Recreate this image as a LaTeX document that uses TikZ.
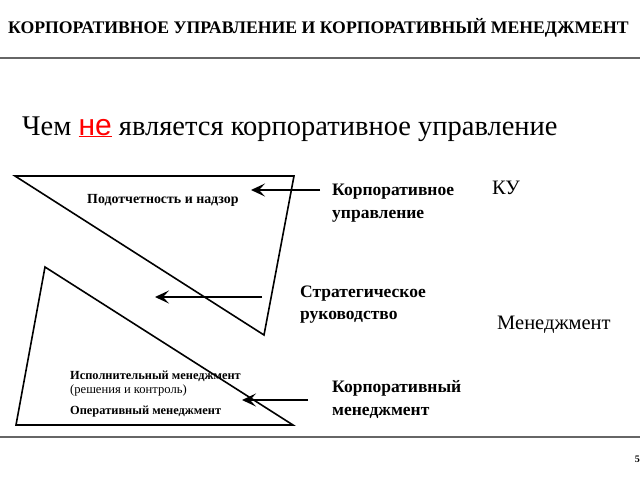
\documentclass[tikz,border=0pt]{standalone}
\usepackage{fontspec}
\setmainfont{Liberation Serif}
\newfontfamily\arialf{Liberation Sans}
\usetikzlibrary{arrows.meta}
\begin{document}
\begin{tikzpicture}[x=1pt,y=-1pt,
  tri/.style={draw=black, line width=1.6pt, line join=miter},
  arr/.style={draw=black, line width=2.4pt, -{Stealth[length=14pt,width=13pt,inset=6pt]}},
  lab/.style={anchor=base west, inner sep=0pt, font=\bfseries\fontsize{17.5}{22}\selectfont},
  small/.style={anchor=base west, inner sep=0pt, font=\bfseries\fontsize{12.4}{14}\selectfont},
  big/.style={anchor=base west, inner sep=0pt, font=\fontsize{20.5}{22}\selectfont},
  rulel/.style={draw=black!60, line width=1.2pt}]
\clip (0,0) rectangle (640,480);
\fill[white] (0,0) rectangle (640,480);
% title
\node[anchor=base west, inner sep=0pt, font=\bfseries\fontsize{17.7}{19}\selectfont] (title) at (8,33) {КОРПОРАТИВНОЕ УПРАВЛЕНИЕ И КОРПОРАТИВНЫЙ МЕНЕДЖМЕНТ};
\draw[rulel] (0,58) -- (640,58);
\draw[rulel] (0,437) -- (640,437);
\node[anchor=base east, inner sep=0pt, font=\bfseries\fontsize{10}{12}\selectfont] (page) at (640,462) {5};
% subtitle
\node[anchor=base west, inner sep=0pt, font=\fontsize{28.5}{30}\selectfont] (sub) at (22,135) {Чем {\arialf\fontsize{30}{32}\selectfont\textcolor{red}{\underline{не}}} является корпоративное управление};
% shapes
\coordinate (a1) at (15,176);
\coordinate (a2) at (294,176);
\coordinate (a3) at (264,335);
\draw[tri] (a1) -- (a2) -- (a3) -- cycle;
\coordinate (b1) at (45,267);
\coordinate (b2) at (16,425);
\coordinate (b3) at (293,425);
\draw[tri] (b1) -- (b2) -- (b3) -- cycle;
% inner texts
\node[small, font=\bfseries\fontsize{13.9}{15}\selectfont] (pod) at (87,203) {Подотчетность и надзор};
\node[small] (isp) at (70,379) {Исполнительный менеджмент};
\node[anchor=base west, inner sep=0pt, font=\fontsize{12.6}{14}\selectfont] (resh) at (70,393) {(решения и контроль)};
\node[small] (oper) at (70,414) {Оперативный менеджмент};
% right labels
\node[lab] (ku1) at (332,195) {Корпоративное};
\node[lab] (ku2) at (332,218) {управление};
\node[lab] (str1) at (300,297) {Стратегическое};
\node[lab] (str2) at (300,319) {руководство};
\node[lab] (km1) at (332,392) {Корпоративный};
\node[lab] (km2) at (332,415) {менеджмент};
\node[big] (ku) at (492,194) {КУ};
\node[big] (men) at (497,329) {Менеджмент};
% arrows
\coordinate (t1) at (320,190);
\coordinate (h1) at (251,190);
\coordinate (t2) at (262,297);
\coordinate (h2) at (155,297);
\coordinate (t3) at (308,400);
\coordinate (h3) at (242,400);
\draw[arr] (t1) -- (h1);
\draw[arr] (t2) -- (h2);
\draw[arr] (t3) -- (h3);
\end{tikzpicture}
\end{document}
